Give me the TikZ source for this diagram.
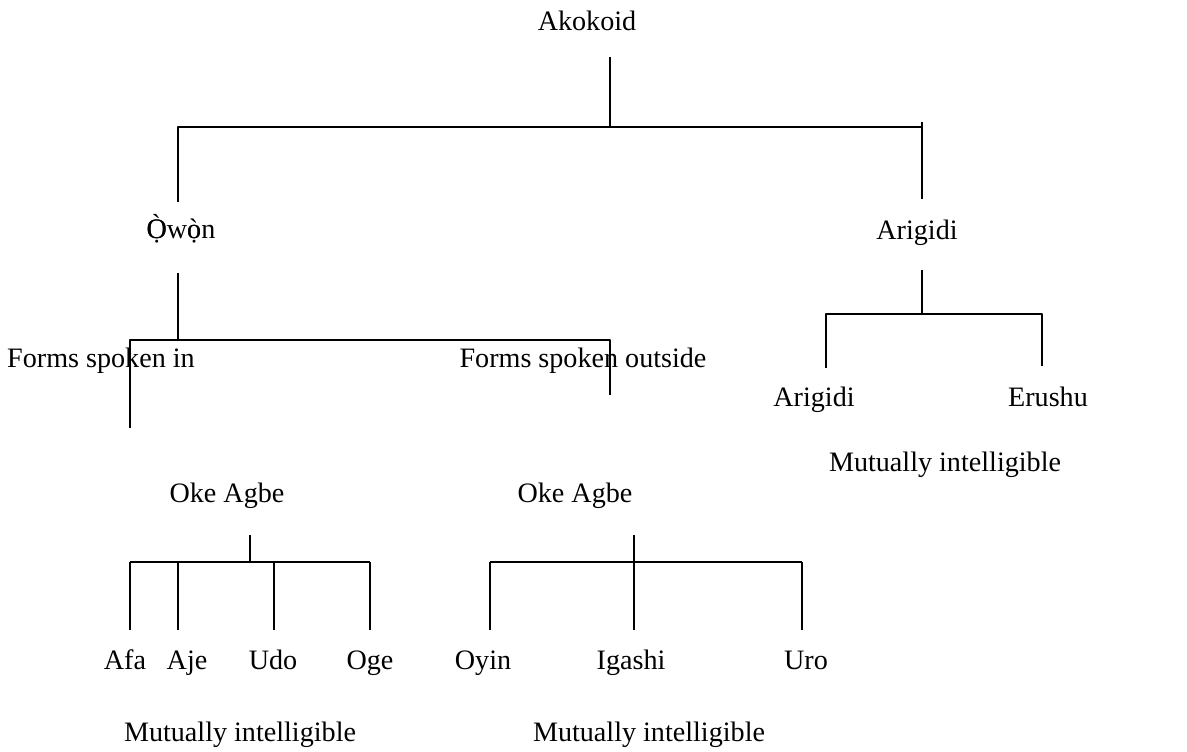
\documentclass[tikz,border=0pt]{standalone}
\usepackage{fontspec}
\setmainfont{Liberation Serif}
\tikzset{lbl/.style={font=\fontsize{20}{24}\selectfont,inner sep=0pt,anchor=base}}
\tikzset{br/.style={line width=1.2pt}}
\newcommand\dotgrave[2]{\ooalign{#1\cr#2}}

\begin{document}
\begin{tikzpicture}[line join=round,x=0.025cm,y=-0.025cm]
\useasboundingbox (0,0) rectangle (1187,751);
% texts
\node[lbl] (akokoid) at (587,30) {Akokoid};
\node[lbl] (owon) at (181,238) {\dotgrave{Ò}{Ọ}w\dotgrave{ò}{ọ}n};
\node[lbl] (arigidi) at (917,239) {Arigidi};
\node[lbl] (formsin) at (101,367) {Forms spoken in};
\node[lbl] (formsout) at (583,367) {Forms spoken outside};
\node[lbl] (arigidib) at (814,406) {Arigidi};
\node[lbl] (erushu) at (1048,406) {Erushu};
\node[lbl] (mutualc) at (945,471) {Mutually intelligible};
\node[lbl] (okein) at (227,502) {Oke Agbe};
\node[lbl] (okeout) at (575,502) {Oke Agbe};
\node[lbl] (afa) at (125,669) {Afa};
\node[lbl] (aje) at (187,669) {Aje};
\node[lbl] (udo) at (273,669) {Udo};
\node[lbl] (oge) at (370,669) {Oge};
\node[lbl] (oyin) at (483,669) {Oyin};
\node[lbl] (igashi) at (631,669) {Igashi};
\node[lbl] (uro) at (806,669) {Uro};
\node[lbl] (mutuala) at (240,741) {Mutually intelligible};
\node[lbl] (mutualb) at (649,741) {Mutually intelligible};

% top level
\coordinate (ak1) at (610,57);
\coordinate (ak2) at (610,127);
\coordinate (akL) at (178,127);
\coordinate (akR) at (922,127);
\coordinate (akLd) at (178,202);
\coordinate (akRu) at (922,122);
\coordinate (akRd) at (922,199);
\draw[br] (ak1) -- (ak2);
\draw[br] (akLd) -- (akL) -- (akR);
\draw[br] (akRu) -- (akRd);

% owon
\coordinate (ow1) at (178,273);
\coordinate (ow2) at (178,340);
\coordinate (owL) at (130,340);
\coordinate (owR) at (610,340);
\coordinate (owLd) at (130,428);
\coordinate (owRd) at (610,395);
\draw[br] (ow1) -- (ow2);
\draw[br] (owLd) -- (owL) -- (owR) -- (owRd);

% arigidi
\coordinate (ar1) at (922,270);
\coordinate (ar2) at (922,314);
\coordinate (arL) at (826,314);
\coordinate (arR) at (1042,314);
\coordinate (arLd) at (826,368);
\coordinate (arRd) at (1042,366);
\draw[br] (ar1) -- (ar2);
\draw[br] (arLd) -- (arL) -- (arR) -- (arRd);

% oke agbe, inside
\coordinate (ki1) at (250,535);
\coordinate (ki2) at (250,562);
\coordinate (kiL) at (130,562);
\coordinate (kiR) at (370,562);
\draw[br] (ki1) -- (ki2);
\draw[br] (kiL) -- (kiR);
\foreach \x/\n in {130/afa,178/aje,274/udo,370/oge}{
  \coordinate (\n-a) at (\x,562);
  \coordinate (\n-b) at (\x,630);
  \draw[br] (\n-a) -- (\n-b);
}

% oke agbe, outside
\coordinate (ko1) at (634,535);
\coordinate (ko2) at (634,562);
\coordinate (koL) at (490,562);
\coordinate (koR) at (802,562);
\draw[br] (ko1) -- (ko2);
\draw[br] (koL) -- (koR);
\foreach \x/\n in {490/oyin,634/igashi,802/uro}{
  \coordinate (\n-a) at (\x,562);
  \coordinate (\n-b) at (\x,630);
  \draw[br] (\n-a) -- (\n-b);
}
\end{tikzpicture}
\end{document}
